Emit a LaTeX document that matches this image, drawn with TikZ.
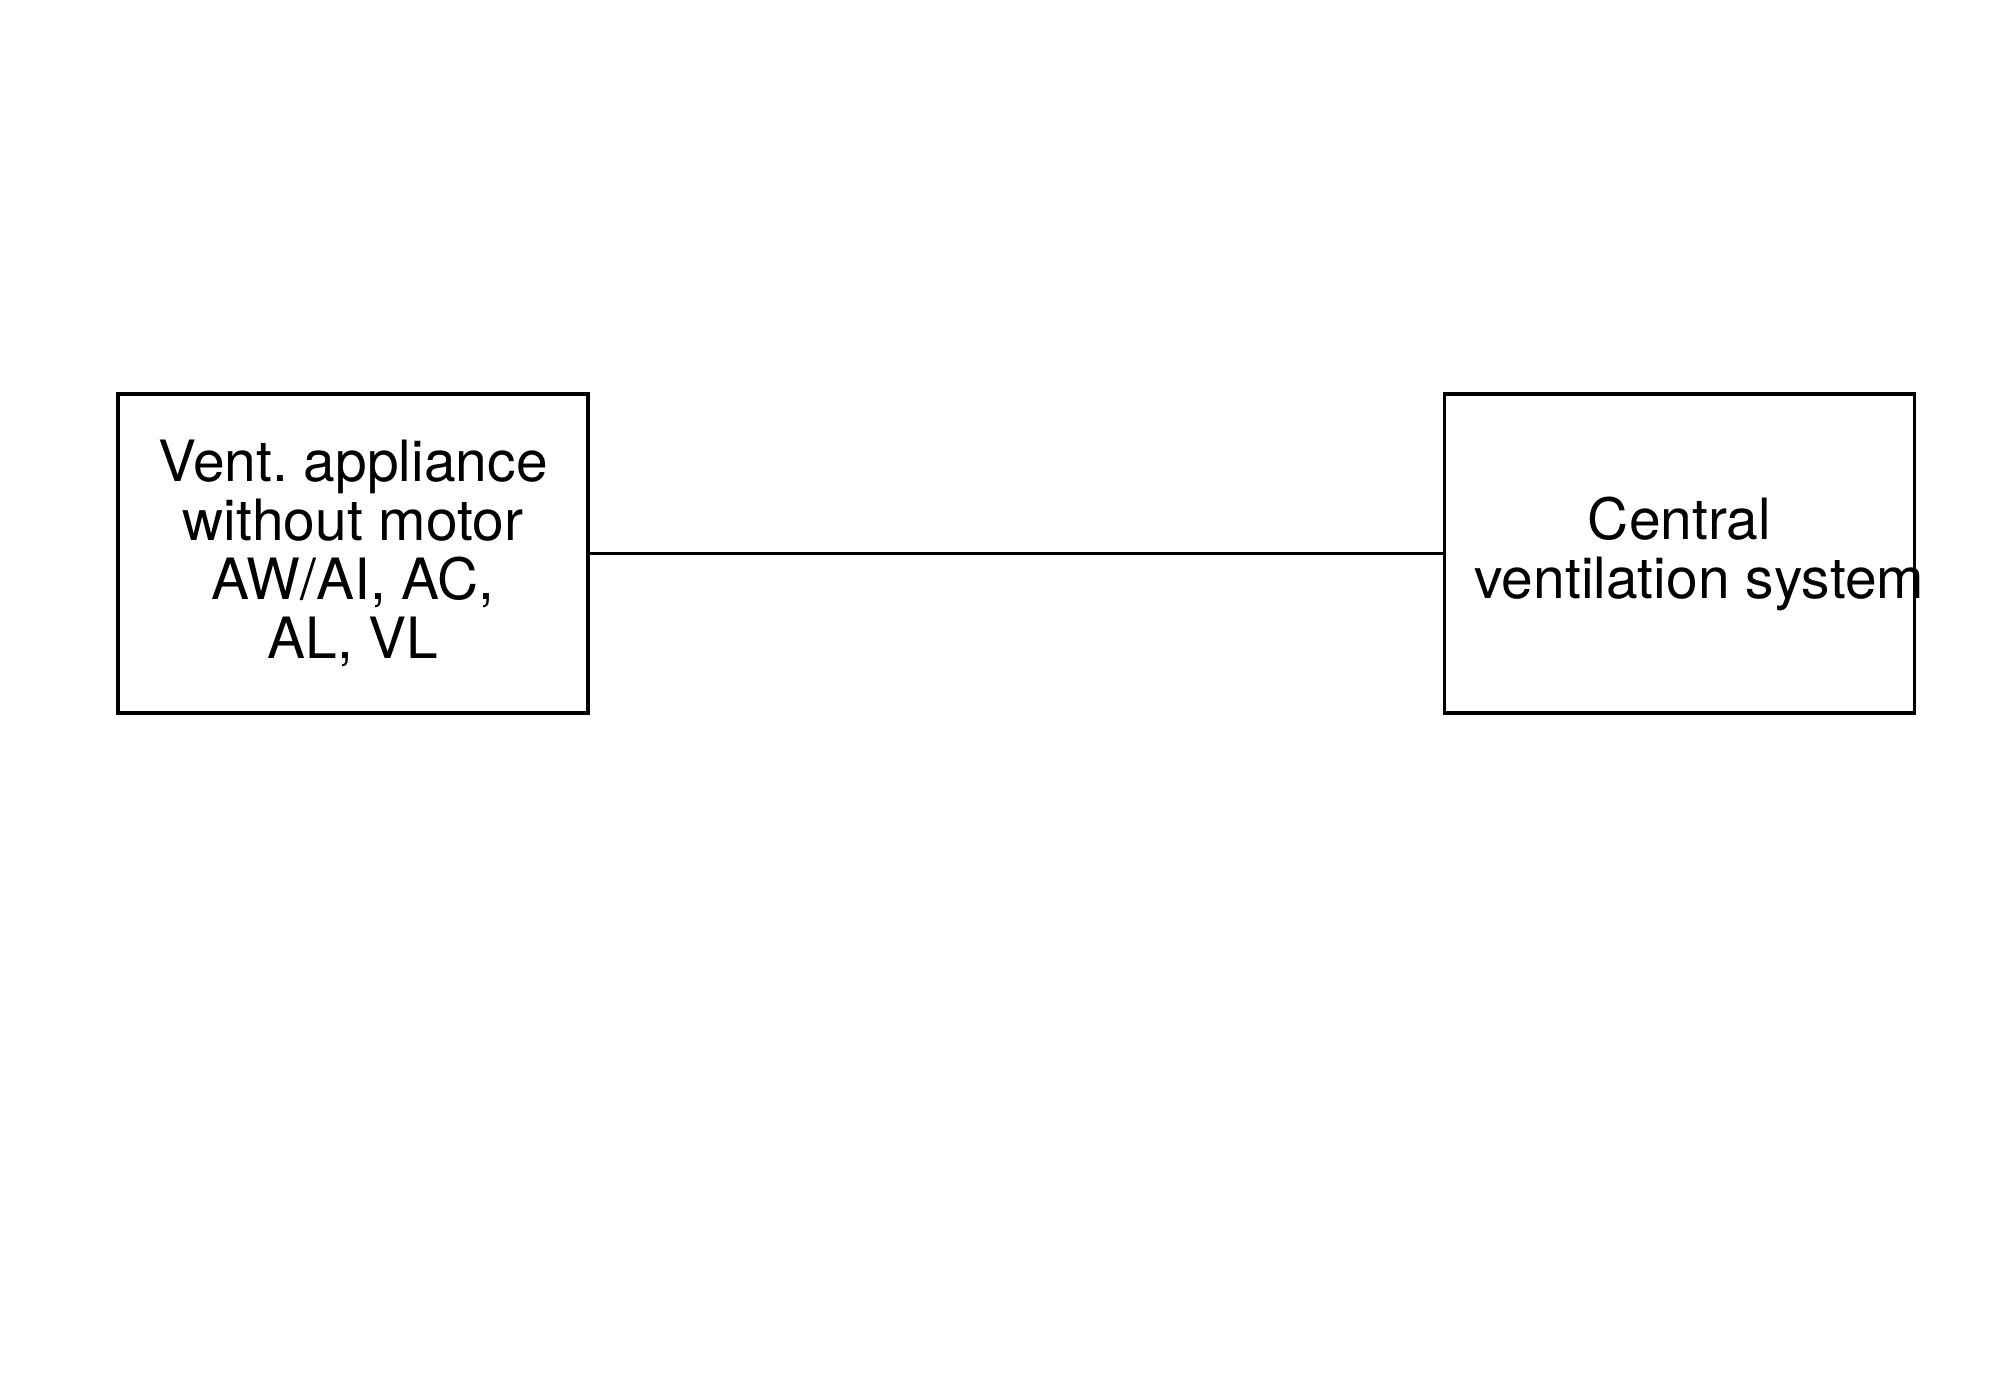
\documentclass[tikz,border=0pt]{standalone}
\usepackage{fontspec}
\setmainfont{TeX Gyre Heros}
\usetikzlibrary{positioning}
\tikzset{
  unit box/.style = {draw, line width=1pt, minimum width=4.7cm,
    minimum height=3.19cm, align=center, inner xsep=0.3cm, inner ysep=0pt}
}
\tikzset{
  every node/.style = {font = \fontsize{16.2}{16.8}\selectfont\frenchspacing}
}
\tikzset{
  duct/.style = {line width=1pt}
}

\begin{document}
\begin{tikzpicture}
  \useasboundingbox (0,0) rectangle (20,13.89);

  \node[unit box] (vent) at (3.53,8.355)
    {Vent. appliance\\without motor\\AW/AI, AC,\\AL, VL};
  \node[unit box, right=8.53cm of vent] (central)
    {Central\\\makebox[4.1cm][l]{ventilation system}};

  \draw[duct] (vent) -- (central);
\end{tikzpicture}
\end{document}
